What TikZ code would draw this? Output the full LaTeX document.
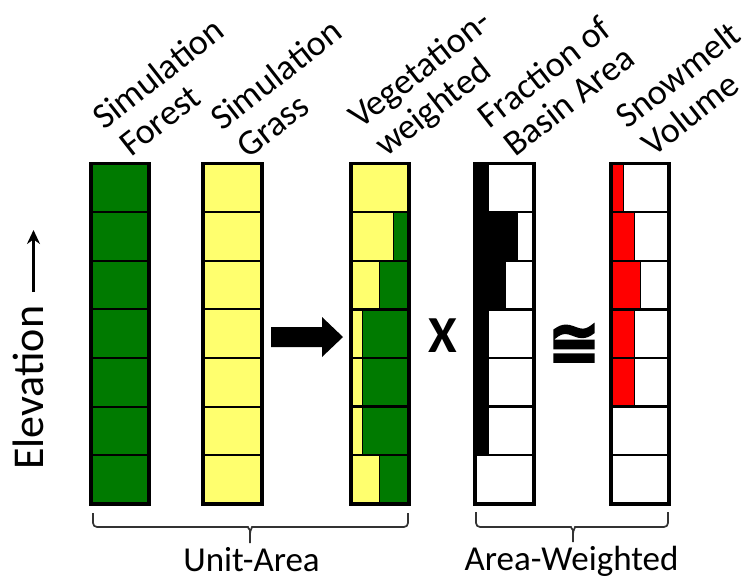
\documentclass[tikz,border=0pt]{standalone}
\usepackage{fontspec}
\setmainfont{Carlito}
\newfontfamily\congfont[FakeBold=4]{DejaVu Sans Bold}
\usetikzlibrary{arrows.meta}

\definecolor{forestgreen}{RGB}{0,122,0}
\definecolor{grassyellow}{RGB}{255,255,110}
\definecolor{meltred}{RGB}{255,0,0}

\begin{document}
\begin{tikzpicture}[x=1pt,y=-1pt,
  collabel/.style={font=\fontsize{36}{40}\selectfont, rotate=38, anchor=base west, inner sep=0pt},
  bottomlabel/.style={font=\fontsize{35}{40}\selectfont, anchor=base, inner sep=0pt},
  rowline/.style={line width=2pt},
  rowbox/.style={line width=2.4pt},
  splitline/.style={line width=1pt},
  outerbox/.style={line width=3.6pt},
  bracepath/.style={line width=1.7pt, black!80, rounded corners=4pt},
]
\useasboundingbox (0,0) rectangle (744,579);

% row geometry shared by all columns
\def\rowtop{163.5}
\def\rowh{48.6}
\def\rowbot{503.7}

% ---- simulation forest
\fill[forestgreen] (91,\rowtop) rectangle (149,\rowbot);
\foreach \i in {1,...,6}
  \draw[rowline] (91,\rowtop+\i*\rowh) -- (149,\rowtop+\i*\rowh);
\draw[outerbox] (91,\rowtop) rectangle (149,\rowbot);

% ---- simulation grass
\fill[grassyellow] (203,\rowtop) rectangle (262,\rowbot);
\foreach \i in {1,...,6}
  \draw[rowline] (203,\rowtop+\i*\rowh) -- (262,\rowtop+\i*\rowh);
\draw[outerbox] (203,\rowtop) rectangle (262,\rowbot);

% ---- vegetation-weighted: yellow share on the left, green on the right
\foreach \f [count=\i] in {1,0.74,0.49,0.2,0.2,0.2,0.49} {
  \pgfmathsetmacro{\ya}{\rowtop+(\i-1)*\rowh}
  \pgfmathsetmacro{\yb}{\ya+\rowh}
  \pgfmathsetmacro{\xs}{351+\f*58}
  \fill[grassyellow] (351,\ya) rectangle (\xs,\yb);
  \fill[forestgreen] (\xs,\ya) rectangle (409,\yb);
  \draw[splitline] (\xs,\ya) -- (\xs,\yb);
  \draw[rowbox] (351,\ya) rectangle (409,\yb);
}
\draw[outerbox] (351,\rowtop) rectangle (409,\rowbot);

% ---- fraction of basin area: black share on the left
\foreach \f [count=\i] in {0.23,0.73,0.52,0.23,0.23,0.23,0} {
  \pgfmathsetmacro{\ya}{\rowtop+(\i-1)*\rowh}
  \pgfmathsetmacro{\yb}{\ya+\rowh}
  \pgfmathsetmacro{\xs}{475+\f*59}
  \fill[white] (475,\ya) rectangle (534,\yb);
  \fill[black] (475,\ya) rectangle (\xs,\yb);
  \draw[rowbox] (475,\ya) rectangle (534,\yb);
}
\draw[outerbox] (475,\rowtop) rectangle (534,\rowbot);

% ---- snowmelt volume: red share on the left
\foreach \f [count=\i] in {0.22,0.4,0.51,0.4,0.4,0,0} {
  \pgfmathsetmacro{\ya}{\rowtop+(\i-1)*\rowh}
  \pgfmathsetmacro{\yb}{\ya+\rowh}
  \pgfmathsetmacro{\xs}{611+\f*58}
  \fill[white] (611,\ya) rectangle (669,\yb);
  \fill[meltred] (611,\ya) rectangle (\xs,\yb);
  \draw[splitline] (\xs,\ya) -- (\xs,\yb);
  \draw[rowbox] (611,\ya) rectangle (669,\yb);
}
\draw[outerbox] (611,\rowtop) rectangle (669,\rowbot);

% ---- column headings
\node[collabel] (forestA) at (104,131) {Simulation};
\node[collabel] (forestB) at (131,158) {Forest};
\node[collabel] (grassA) at (222,132) {Simulation};
\node[collabel] (grassB) at (248,160) {Grass};
\node[collabel] (vegA) at (360,130) {Vegetation-};
\node[collabel] (vegB) at (386,158) {weighted};
\node[collabel] (fracA) at (489.5,130) {Fraction of};
\node[collabel] (fracB) at (515,158) {Basin Area};
\node[collabel] (meltA) at (627,130) {Snowmelt};
\node[collabel] (meltB) at (653,158) {Volume};

% ---- elevation axis
\node[font=\fontsize{44}{50}\selectfont, rotate=90, anchor=base west, inner sep=0pt] (elev) at (43,470) {Elevation};
\coordinate (elevfoot) at (33.5,292);
\coordinate (elevtip) at (33.5,230);
\draw[line width=3pt, -{Stealth[length=14pt,width=13pt]}] (elevfoot) -- (elevtip);

% ---- operators
\fill[black] (271,327) -- (322,327) -- (322,317) -- (343,337) -- (322,357) -- (322,347) -- (271,347) -- cycle;
\node[font=\fontsize{52}{52}\bfseries\selectfont, anchor=base, inner sep=0pt] (times) at (442.5,352) {X};
\node[font=\fontsize{62}{62}\congfont, anchor=base, inner sep=0pt] (approx) at (574,364) {≅};

% ---- braces
\coordinate (uaL) at (93,513);
\coordinate (uaR) at (408,513);
\coordinate (uaTip) at (250,543);
\draw[bracepath] (uaL) |- (244,527) to[out=0,in=90] (250,534) -- (uaTip);
\draw[bracepath] (uaR) |- (256,527) to[out=180,in=90] (250,534);
\coordinate (awL) at (476,512);
\coordinate (awR) at (668,512);
\coordinate (awTip) at (573,542);
\draw[bracepath] (awL) |- (567,527) to[out=0,in=90] (573,534) -- (awTip);
\draw[bracepath] (awR) |- (579,527) to[out=180,in=90] (573,534);

\node[bottomlabel] (unitarea) at (251.5,571) {Unit-Area};
\node[bottomlabel] (areaweighted) at (571.5,570) {Area-Weighted};
\end{tikzpicture}
\end{document}
